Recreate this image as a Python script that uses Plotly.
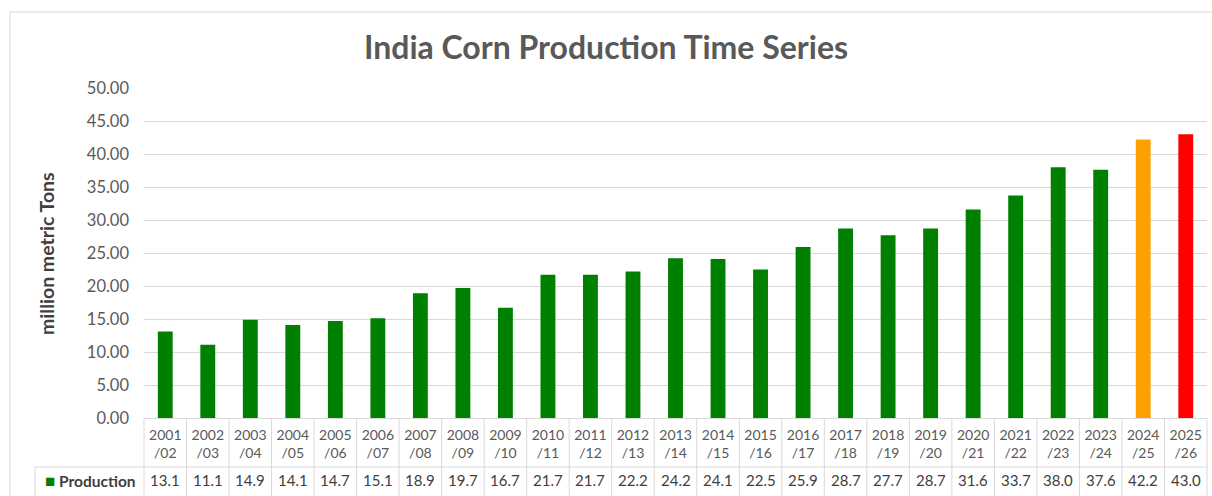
import plotly.graph_objects as go

# ---- data ----
season_start = ["2001", "2002", "2003", "2004", "2005", "2006", "2007", "2008", "2009",
                "2010", "2011", "2012", "2013", "2014", "2015", "2016", "2017", "2018",
                "2019", "2020", "2021", "2022", "2023", "2024", "2025"]
season_end = ["/02", "/03", "/04", "/05", "/06", "/07", "/08", "/09", "/10", "/11", "/12",
              "/13", "/14", "/15", "/16", "/17", "/18", "/19", "/20", "/21", "/22", "/23",
              "/24", "/25", "/26"]
production = [13.1, 11.1, 14.9, 14.1, 14.7, 15.1, 18.9, 19.7, 16.7, 21.7, 21.7, 22.2,
              24.2, 24.1, 22.5, 25.9, 28.7, 27.7, 28.7, 31.6, 33.7, 38.0, 37.6, 42.2, 43.0]
y_ticks = [0, 5, 10, 15, 20, 25, 30, 35, 40, 45, 50]

# ---- styles ----
GREEN = "#008000"
ORANGE = "#FFA000"
RED = "#FF0000"
bar_colors = [GREEN] * (len(production) - 2) + [ORANGE, RED]
TXT = "#595959"
DARK = "#404040"
GRID = "#D9D9D9"
FONT = "Lato"

W, H = 1212, 496
ML, MR, MT, MB = 144, 5, 88, 78
PW, PH = W - ML - MR, H - MT - MB

def px_x(px):
    return (px - ML) / PW

def px_y(py):
    return (H - MB - py) / PH

categories = [a + b for a, b in zip(season_start, season_end)]
ticktext = [a + "<br>" + b for a, b in zip(season_start, season_end)]

fig = go.Figure()
fig.add_trace(go.Bar(
    x=categories, y=production, marker=dict(color=bar_colors, line=dict(width=0)),
    name="Production", showlegend=False,
))

n = len(categories)
shapes = []
# table vertical lines at category boundaries
for k in range(n + 1):
    shapes.append(dict(type="line", xref="paper", yref="paper", x0=k / n, x1=k / n,
                       y0=0, y1=px_y(H + 2), line=dict(color=GRID, width=1)))
# table row separator
shapes.append(dict(type="line", xref="paper", yref="paper", x0=px_x(35), x1=1,
                   y0=px_y(467), y1=px_y(467), line=dict(color=GRID, width=1)))
shapes.append(dict(type="line", xref="paper", yref="paper", x0=px_x(35), x1=px_x(35),
                   y0=px_y(467), y1=px_y(H + 2), line=dict(color=GRID, width=1)))
# chart outer border
shapes.append(dict(type="rect", xref="paper", yref="paper", x0=px_x(10), x1=px_x(W + 5),
                   y0=px_y(H + 5), y1=px_y(12), line=dict(color=GRID, width=1),
                   fillcolor="rgba(0,0,0,0)", layer="below"))

annotations = []
for c, v in zip(categories, production):
    annotations.append(dict(x=c, xref="x", y=px_y(480), yref="paper", text=f"{v:.1f}",
                            showarrow=False, xanchor="center", yanchor="middle",
                            font=dict(family=FONT, size=15, color=DARK)))
annotations.append(dict(x=px_x(138), xref="paper", y=px_y(480), yref="paper",
                        text=f"<span style='color:{GREEN};font-size:17px'>■</span><b> Production</b>",
                        showarrow=False, xanchor="right", yanchor="middle",
                        font=dict(family=FONT, size=15.5, color=DARK)))
annotations.append(dict(x=px_x(46), xref="paper", y=px_y(254), yref="paper",
                        text="<b>million metric Tons</b>", textangle=-90, showarrow=False,
                        xanchor="center", yanchor="middle",
                        font=dict(family=FONT, size=19.5, color=DARK)))

fig.update_layout(
    width=W, height=H,
    margin=dict(l=ML, r=MR, t=MT, b=MB),
    paper_bgcolor="white", plot_bgcolor="white",
    bargap=0.65,
    title=dict(text="<b>India Corn Production Time Series</b>", x=0.5, xref="container",
               xanchor="center", y=1 - 48 / H, yref="container", yanchor="middle",
               font=dict(family=FONT, size=32, color=TXT)),
    xaxis=dict(type="category", tickmode="array", tickvals=categories, ticktext=ticktext,
               showgrid=False, showline=True, linecolor=GRID, linewidth=1, ticks="",
               tickfont=dict(family=FONT, size=14, color=TXT), ticklabelstandoff=4,
               range=[-0.5, n - 0.5], fixedrange=True),
    yaxis=dict(range=[0, 50], tickmode="array", tickvals=y_ticks, tickformat=".2f",
               showgrid=True, gridcolor=GRID, gridwidth=1, zeroline=False, showline=False,
               tickfont=dict(family=FONT, size=16.5, color=TXT), ticklabelstandoff=14),
    shapes=shapes,
    annotations=annotations,
)

fig.write_html("out.html", config={"displayModeBar": False},
               post_script="document.body.style.margin='0';document.body.style.overflow='hidden';")
